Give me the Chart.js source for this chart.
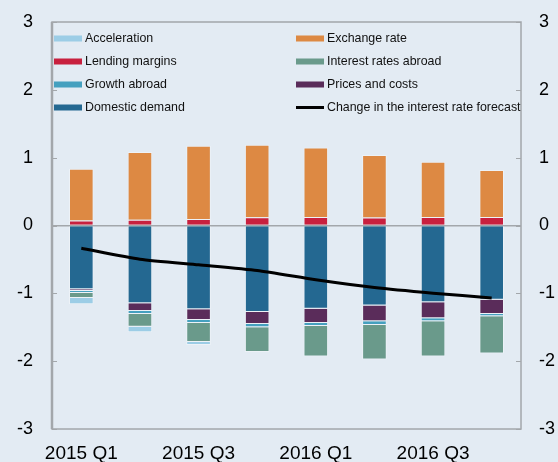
<!DOCTYPE html>
<html>
<head>
<meta charset="utf-8">
<script src="https://cdn.jsdelivr.net/npm/chart.js@4/dist/chart.umd.min.js"></script>
<style>
  html, body { margin: 0; padding: 0; background: #e3ebf3; }
  #wrap { width: 558px; height: 462px; }
</style>
</head>
<body>
<div id="wrap"><canvas id="grafico" width="558" height="462"></canvas></div>
<script>
// Trimestres y valores
const trimestres = ['2015 Q1', '2015 Q2', '2015 Q3', '2015 Q4', '2016 Q1', '2016 Q2', '2016 Q3', '2016 Q4'];

const tipoCambio   = [0.763, 1.002, 1.077, 1.067, 1.023, 0.923, 0.811, 0.693];
const margenes     = [0.072, 0.083, 0.097, 0.122, 0.127, 0.117, 0.127, 0.127];
const demanda      = [-0.94, -1.146, -1.235, -1.274, -1.226, -1.18, -1.13, -1.093];
const precios      = [-0.025, -0.114, -0.157, -0.177, -0.211, -0.23, -0.237, -0.211];
const crecimiento  = [-0.03, -0.044, -0.045, -0.05, -0.044, -0.056, -0.044, -0.034];
const tasasExt     = [-0.075, -0.19, -0.28, -0.364, -0.452, -0.511, -0.52, -0.55];
const aceleracion  = [-0.09, -0.078, -0.044, 0, 0, 0, 0, 0];
const cambioTasa   = [-0.335, -0.497, -0.58, -0.665, -0.80, -0.915, -0.998, -1.068];

const ticksY = [-3, -2, -1, 0, 1, 2, 3];

const fuente = '"Liberation Sans", Arial, sans-serif';
const borde = 'rgba(255,255,255,0.35)';

function barra(label, data, color) {
  return {
    type: 'bar', label, data,
    backgroundColor: color, borderColor: borde, borderWidth: 1,
    stack: 'contrib', order: 1,
    barPercentage: 0.42, categoryPercentage: 1
  };
}

// orden de apilado: desde cero hacia afuera
const dsDemanda = barra('Domestic demand', demanda, '#246891');
const dsMargenes = barra('Lending margins', margenes, '#c8203e');
const dsPrecios = barra('Prices and costs', precios, '#5a2c5a');
const dsCambio = barra('Exchange rate', tipoCambio, '#dd8943');
const dsCrec = barra('Growth abroad', crecimiento, '#45a0bf');
const dsTasas = barra('Interest rates abroad', tasasExt, '#6a9a8b');
const dsAcel = barra('Acceleration', aceleracion, '#9ccde6');
const dsLinea = {
  type: 'line', label: 'Change in the interest rate forecast', data: cambioTasa,
  borderColor: '#000', borderWidth: 3, pointRadius: 0, tension: 0.2,
  stack: 'linea', order: 0, fill: false
};

// leyenda en dos columnas, como en el original
const columnas = [
  [dsAcel, dsMargenes, dsCrec, dsDemanda],
  [dsCambio, dsTasas, dsPrecios, dsLinea]
];

const leyendaYMarco = {
  id: 'leyendaYMarco',
  afterDraw(chart) {
    const { ctx, chartArea: a } = chart;
    const y = chart.scales.y;
    ctx.save();
    // marco
    ctx.strokeStyle = '#a3a7ab';
    ctx.lineWidth = 1.5;
    ctx.strokeRect(a.left, a.top, a.right - a.left, a.bottom - a.top);
    ctx.lineWidth = 2.5;
    ctx.beginPath();
    ctx.moveTo(a.left, a.top);
    ctx.lineTo(a.left, a.bottom);
    ctx.stroke();
    // marcas internas
    ctx.lineWidth = 1;
    ticksY.forEach(v => {
      const py = Math.round(y.getPixelForValue(v)) + 0.5;
      ctx.beginPath();
      ctx.moveTo(a.left, py); ctx.lineTo(a.left + 5, py);
      ctx.moveTo(a.right, py); ctx.lineTo(a.right - 5, py);
      ctx.stroke();
    });
    // leyenda
    ctx.font = '12.4px ' + fuente;
    ctx.textBaseline = 'middle';
    const xs = [54, 296];
    columnas.forEach((col, c) => {
      col.forEach((ds, r) => {
        const cy = 38.5 + r * 23;
        if (ds.type === 'line') {
          ctx.fillStyle = '#000';
          ctx.fillRect(xs[c], cy - 1.5, 28, 3);
        } else {
          ctx.fillStyle = ds.backgroundColor;
          ctx.fillRect(xs[c], cy - 3, 28, 6);
        }
        ctx.fillStyle = '#111';
        ctx.fillText(ds.label, xs[c] + 31, cy);
      });
    });
    ctx.restore();
  }
};

new Chart(document.getElementById('grafico'), {
  data: {
    labels: trimestres,
    datasets: [dsDemanda, dsMargenes, dsPrecios, dsCambio, dsCrec, dsTasas, dsAcel, dsLinea]
  },
  options: {
    responsive: false,
    animation: false,
    devicePixelRatio: 1,
    layout: { padding: { top: 22, left: 0, right: 0, bottom: 0 } },
    plugins: { legend: { display: false }, tooltip: { enabled: false } },
    scales: {
      x: {
        stacked: true,
        grid: { display: false },
        border: { display: false },
        ticks: {
          autoSkip: false, maxRotation: 0, padding: 5,
          color: '#000', font: { size: 19, family: fuente },
          callback: (v, i) => (i % 2 === 0 ? trimestres[i] : '')
        },
        afterFit: s => { s.height = 33; s.paddingLeft = 0; s.paddingRight = 0; }
      },
      y: {
        stacked: true, min: -3, max: 3,
        afterBuildTicks: s => { s.ticks = ticksY.map(v => ({ value: v })); },
        grid: {
          drawTicks: false,
          color: c => (c.tick && c.tick.value === 0 ? '#a3a7ab' : 'rgba(0,0,0,0)'),
          lineWidth: 1.5
        },
        border: { display: false },
        ticks: { padding: 19, color: '#000', font: { size: 18, family: fuente } },
        afterFit: s => { s.width = 52; s.paddingTop = 0; s.paddingBottom = 0; }
      },
      y2: {
        position: 'right', min: -3, max: 3,
        afterBuildTicks: s => { s.ticks = ticksY.map(v => ({ value: v })); },
        grid: { display: false, drawTicks: false },
        border: { display: false },
        ticks: { padding: 18, color: '#000', font: { size: 18, family: fuente } },
        afterFit: s => { s.width = 37; s.paddingTop = 0; s.paddingBottom = 0; }
      }
    }
  },
  plugins: [leyendaYMarco]
});
</script>
</body>
</html>
